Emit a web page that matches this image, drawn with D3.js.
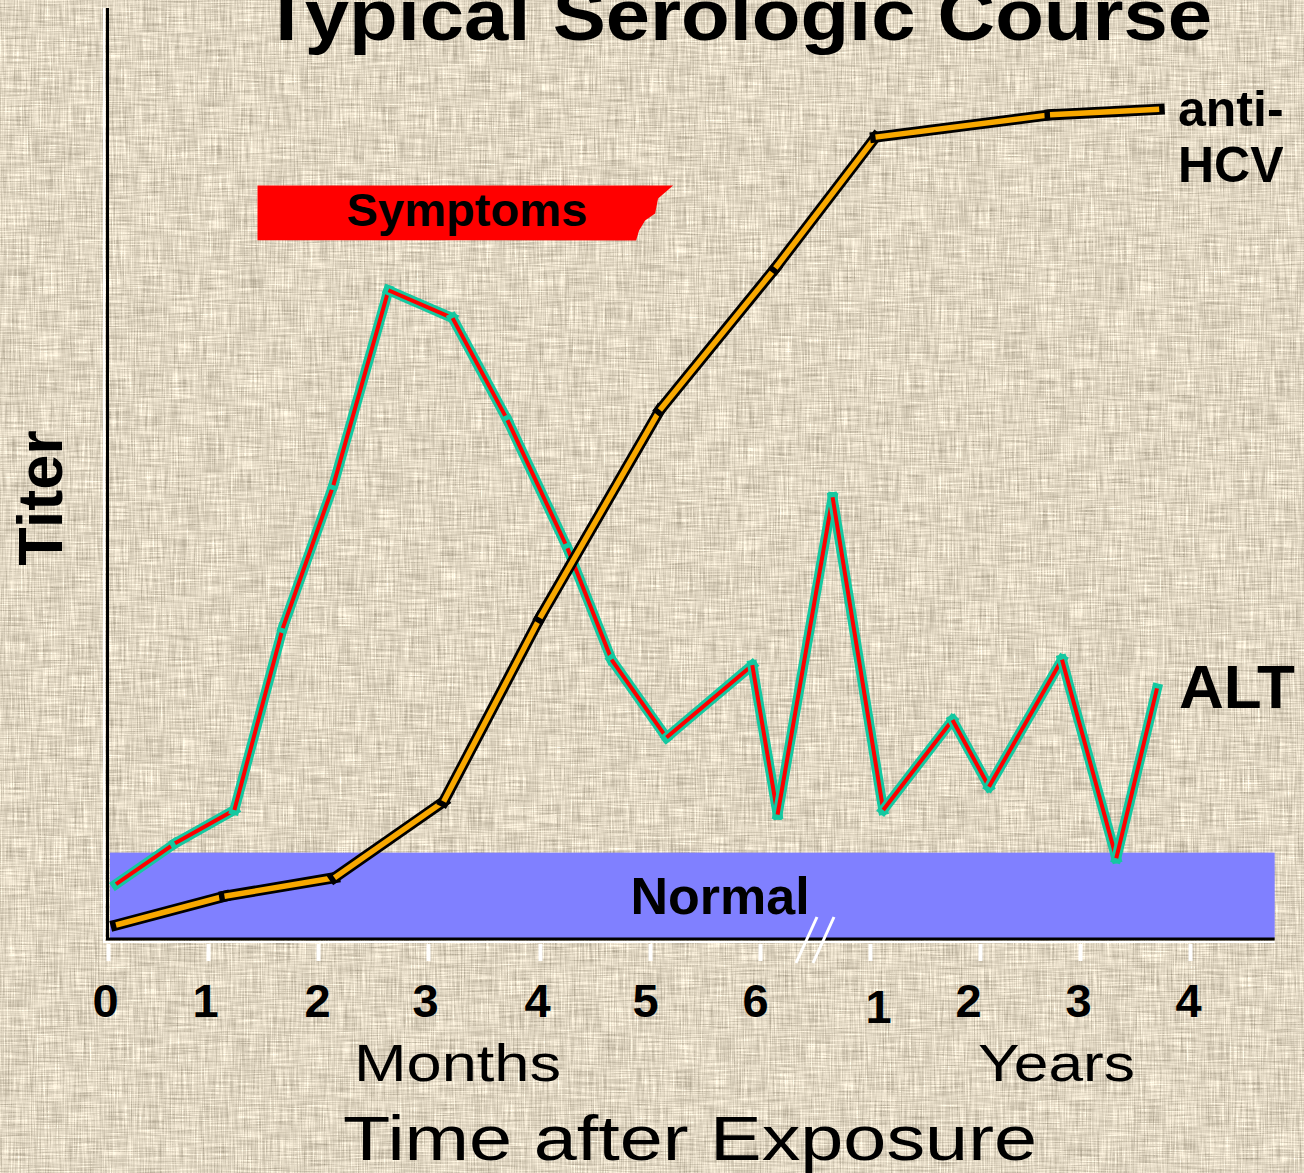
<!DOCTYPE html>
<html lang="en">
<head>
<meta charset="UTF-8">
<title>Typical Serologic Course</title>
<script src="https://cdn.jsdelivr.net/npm/d3@7/dist/d3.min.js"></script>
<style>
  body { margin: 0; background: #dcd1bc; }
  text { font-family: "Liberation Sans", Arial, sans-serif; }
</style>
</head>
<body>
<svg id="chart" width="1304" height="1173" viewBox="0 0 1304 1173"></svg>
<script>
// axis positions: months 0-6, then a break, then years 1-4 (index 7..10)
var tickIndex = [0, 1, 2, 3, 4, 5, 6, 7, 8, 9, 10];
var tickLabels = ["0", "1", "2", "3", "4", "5", "6", "1", "2", "3", "4"];
var tickNudge = [-3, -3, -1, -3, -3, -5, -5, 8, -12, -2, -2];

// ALT titer (time in axis index units)
var altTime  = [0.08, 0.67, 1.24, 1.68, 2.14, 2.64, 3.22, 3.71, 4.25, 4.65, 5.15, 5.93, 6.16, 6.66, 7.12, 7.75, 8.09, 8.82, 9.33, 9.70];
var altTiter = [5.8, 10.2, 13.8, 33.4, 48.8, 69.8, 66.8, 55.8, 42.0, 30.0, 21.6, 29.4, 13.3, 47.5, 13.8, 23.5, 16.3, 30.0, 8.6, 26.9];

// anti-HCV titer
var hcvTime  = [0.08, 1.15, 2.15, 3.14, 4.0, 5.09, 6.14, 7.05, 8.7, 9.72];
var hcvTiter = [1.4, 4.5, 6.5, 14.7, 34.5, 56.9, 72.2, 86.3, 88.7, 89.3];

var normalUpper = 9.2;            // top of normal range
var symptomsStart = 1.45, symptomsEnd = 5.21;
var symptomsTiter = [75.2, 81.1];
var axisEnd = 10.77;

var svg = d3.select("#chart");
var W = 1304, H = 1173;

var x = d3.scaleLinear()
    .domain(tickIndex)
    .range([108, 208, 318, 428, 540, 650, 760, 870, 980, 1080, 1190]);
var y = d3.scaleLinear().domain([0, 100]).range([938, 10]);

// linen background
var defs = svg.append("defs");
var f = defs.append("filter").attr("id", "linen")
    .attr("x", 0).attr("y", 0).attr("width", "100%").attr("height", "100%")
    .attr("color-interpolation-filters", "sRGB");
f.append("feTurbulence").attr("type", "fractalNoise").attr("baseFrequency", "0.7 0.03")
    .attr("numOctaves", 2).attr("seed", 3).attr("result", "v");
f.append("feTurbulence").attr("type", "fractalNoise").attr("baseFrequency", "0.03 0.7")
    .attr("numOctaves", 2).attr("seed", 8).attr("result", "h");
f.append("feComposite").attr("in", "v").attr("in2", "h").attr("operator", "arithmetic")
    .attr("k2", 0.5).attr("k3", 0.5).attr("result", "m");
f.append("feColorMatrix").attr("in", "m").attr("type", "matrix")
    .attr("values", "0.7 0 0 0 0.53  0.7 0 0 0 0.49  0.7 0 0 0 0.41  0 0 0 0 1");
svg.append("rect").attr("width", W).attr("height", H).attr("fill", "#dfd4bf");
svg.append("rect").attr("width", W).attr("height", H).attr("filter", "url(#linen)");

// title (runs off the top edge as in the slide)
svg.append("text").attr("x", 737).attr("y", 40)
    .attr("text-anchor", "middle").attr("font-size", 72).attr("font-weight", "bold")
    .attr("textLength", 950).attr("lengthAdjust", "spacingAndGlyphs")
    .text("Typical Serologic Course");

// normal band
svg.append("rect")
    .attr("x", x(0) + 2).attr("y", y(normalUpper))
    .attr("width", x(axisEnd) - x(0) - 2).attr("height", y(0) - y(normalUpper))
    .attr("fill", "#8080ff");
svg.append("text").attr("x", 720).attr("y", 914)
    .attr("text-anchor", "middle").attr("font-size", 52).attr("font-weight", "bold")
    .text("Normal");

// symptoms bar with torn right edge
var sx0 = x(symptomsStart), sx1 = x(symptomsEnd);
var sy0 = y(symptomsTiter[1]), sy1 = y(symptomsTiter[0]);
var torn = [[0, 0], [-15, 13], [-18, 28], [-28, 35], [-34, 45], [-37, 55]];
var symPts = [[sx0, sy0]].concat(torn.map(function(p) { return [sx1 + p[0], sy0 + p[1]]; }))
    .concat([[sx0, sy1]]);
svg.append("polygon").attr("points", symPts.map(function(p) { return p.join(","); }).join(" "))
    .attr("fill", "#ff0000");
svg.append("text").attr("x", 467).attr("y", 226)
    .attr("text-anchor", "middle").attr("font-size", 46).attr("font-weight", "bold")
    .attr("textLength", 241).attr("lengthAdjust", "spacingAndGlyphs")
    .text("Symptoms");

// axes lines (white highlight + black)
svg.append("line").attr("x1", 104).attr("x2", 104).attr("y1", y(100) - 2).attr("y2", y(0) + 5)
    .attr("stroke", "#fff").attr("stroke-width", 2);
svg.append("line").attr("x1", 107.5).attr("x2", 107.5).attr("y1", y(100) - 2).attr("y2", y(0) + 2)
    .attr("stroke", "#000").attr("stroke-width", 3);
svg.append("line").attr("x1", 104).attr("x2", x(axisEnd)).attr("y1", 942).attr("y2", 942)
    .attr("stroke", "#fff").attr("stroke-width", 2);
svg.append("line").attr("x1", 106).attr("x2", x(axisEnd)).attr("y1", 939).attr("y2", 939)
    .attr("stroke", "#000").attr("stroke-width", 3);

var xAxis = d3.axisBottom(x)
    .tickValues(tickIndex)
    .tickFormat(function(d, i) { return tickLabels[i]; })
    .tickSize(17).tickPadding(23);
var gx = svg.append("g").attr("transform", "translate(0,944)").call(xAxis);
gx.select(".domain").remove();
gx.selectAll(".tick line").attr("stroke", "#fff").attr("stroke-width", 4);
gx.selectAll(".tick text")
    .attr("font-family", "'Liberation Sans', Arial, sans-serif")
    .attr("font-size", 47).attr("font-weight", "bold").attr("fill", "#000")
    .attr("dx", function(d, i) { return tickNudge[i]; })
    .attr("dy", function(d) { return d === 7 ? "0.82em" : "0.71em"; });

// axis break marks
var bx = (x(6) + x(7)) / 2;
[-8, 9].forEach(function(o) {
  svg.append("line")
      .attr("x1", bx + o + 10).attr("y1", 917)
      .attr("x2", bx + o - 11).attr("y2", 963)
      .attr("stroke", "#fff").attr("stroke-width", 3);
});

// axis titles
svg.append("text").attr("transform", "translate(62,498) rotate(-90)")
    .attr("text-anchor", "middle").attr("font-size", 63).attr("font-weight", "bold")
    .text("Titer");
svg.append("text").attr("x", 354).attr("y", 1081)
    .attr("font-family", "'DejaVu Sans Condensed', 'DejaVu Sans', sans-serif")
    .attr("font-size", 52).attr("textLength", 207).attr("lengthAdjust", "spacingAndGlyphs")
    .text("Months");
svg.append("text").attr("x", 978).attr("y", 1081)
    .attr("font-family", "'DejaVu Sans Condensed', 'DejaVu Sans', sans-serif")
    .attr("font-size", 52).attr("textLength", 157).attr("lengthAdjust", "spacingAndGlyphs")
    .text("Years");
svg.append("text").attr("x", 343).attr("y", 1160)
    .attr("font-family", "'DejaVu Sans Condensed', 'DejaVu Sans', sans-serif")
    .attr("font-size", 63).attr("textLength", 694).attr("lengthAdjust", "spacingAndGlyphs")
    .text("Time after Exposure");

// series drawn segment by segment (outlined strokes)
function drawSeries(times, titers, outer, outerW, inner, innerW) {
  var pts = times.map(function(t, i) { return [x(t), y(titers[i])]; });
  var g = svg.append("g");
  var line = d3.line();
  d3.pairs(pts).forEach(function(seg) {
    g.append("path").attr("d", line(seg)).attr("fill", "none")
        .attr("stroke", outer).attr("stroke-width", outerW).attr("stroke-linecap", "square");
    g.append("path").attr("d", line(seg)).attr("fill", "none")
        .attr("stroke", inner).attr("stroke-width", innerW);
  });
}
drawSeries(altTime, altTiter, "#14c8a0", 10, "#ff0000", 4);
drawSeries(hcvTime, hcvTiter, "#000", 11, "#f8a800", 5.5);

// series labels
svg.append("text").attr("x", 1178).attr("y", 126)
    .attr("font-size", 50).attr("font-weight", "bold").text("anti-");
svg.append("text").attr("x", 1178).attr("y", 182)
    .attr("font-size", 50).attr("font-weight", "bold").text("HCV");
svg.append("text").attr("x", 1179).attr("y", 708)
    .attr("font-size", 62).attr("font-weight", "bold").text("ALT");
</script>
</body>
</html>
